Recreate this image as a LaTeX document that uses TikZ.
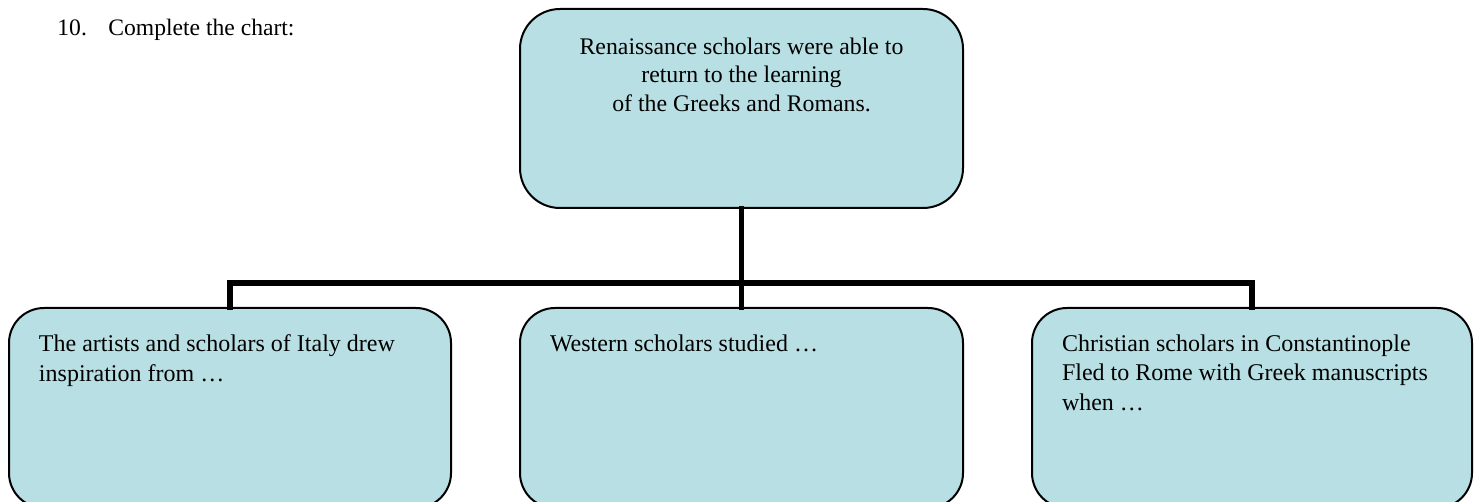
\documentclass[tikz,border=0pt]{standalone}
\usepackage{fontspec}
\setmainfont{Liberation Serif}
\definecolor{chartfill}{RGB}{184,223,227}
\newcommand{\boxtext}[4]{\parbox[c][#2][t]{#1}{#3#4}}
\begin{document}
\begin{tikzpicture}
% chart drawn in pixel units of the source page
\def\pxsz{0.5pt}
\tikzset{
  chartbox/.style={draw=black, line width=1pt, fill=chartfill, anchor=north west,
    inner xsep=15pt, inner ysep=13.5pt, font=\fontsize{12}{14.6}\selectfont},
  linkline/.style={draw=black, line width=2.9pt, line join=miter, line cap=rect}
}
\begin{scope}[x=\pxsz, y=-\pxsz]
  \useasboundingbox (0,0) rectangle (1478,502);
  % Heading
  \node[anchor=base west, inner sep=0pt, font=\fontsize{11.8}{14}\selectfont] (title) at (57,36)
    {\makebox[25.5pt][l]{10.}Complete the chart:};
  % Top box
  \node[chartbox, rounded corners=20pt, inner ysep=14.5pt] (topbox) at (519,8)
    {\boxtext{191.5pt}{70.5pt}{\centering\fontsize{11.9}{14.2}\selectfont}{Renaissance scholars were able to\\
     return to the learning\\ of the Greeks and Romans.}};
  % Bottom boxes
  \node[chartbox, rounded corners=17.5pt] (leftbox) at (8,307)
    {\boxtext{191pt}{73pt}{\raggedright}{The artists and scholars of Italy drew\\ inspiration from \dots}};
  \node[chartbox, rounded corners=17.5pt] (midbox) at (519,307)
    {\boxtext{191.5pt}{73pt}{\raggedright}{Western scholars studied \dots}};
  \node[chartbox, rounded corners=17.5pt] (rightbox) at (1031,307)
    {\boxtext{190pt}{73pt}{\raggedright}{Christian scholars in Constantinople\\ Fled to Rome with Greek manuscripts\\ when \dots}};
  % Connectors
  \coordinate (bus) at (741,283);
  \draw[linkline] (topbox.south) -- (midbox.north);
  \draw[linkline] (leftbox.north) -- (leftbox.north |- bus) -- (rightbox.north |- bus) -- (rightbox.north);
\end{scope}
\end{tikzpicture}
\end{document}
